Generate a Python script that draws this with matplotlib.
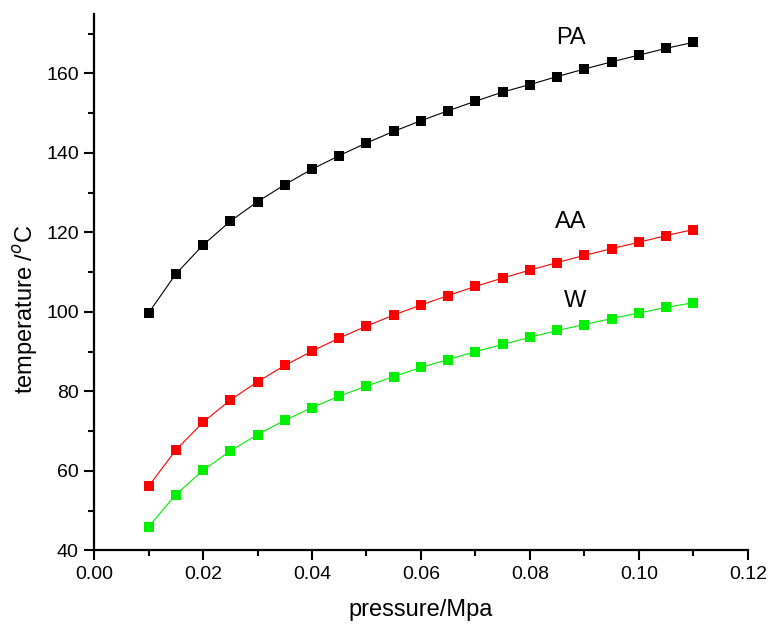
import numpy as np
import matplotlib.pyplot as plt
from matplotlib.ticker import MultipleLocator

plt.rcParams['font.family'] = ['Liberation Sans', 'DejaVu Sans']

pressure = [0.010, 0.015, 0.020, 0.025, 0.030, 0.035, 0.040, 0.045, 0.050, 0.055, 0.060,
            0.065, 0.070, 0.075, 0.080, 0.085, 0.090, 0.095, 0.100, 0.105, 0.110]
temp_pa = [99.7, 109.5, 116.8, 122.8, 127.7, 132.0, 135.9, 139.3, 142.5, 145.4, 148.1,
           150.6, 153.0, 155.3, 157.2, 159.2, 161.1, 162.9, 164.6, 166.3, 167.8]
temp_aa = [56.1, 65.2, 72.2, 77.8, 82.4, 86.5, 90.1, 93.4, 96.4, 99.2, 101.7,
           104.1, 106.4, 108.5, 110.5, 112.4, 114.2, 115.9, 117.5, 119.2, 120.7]
temp_w = [45.9, 54.0, 60.1, 65.0, 69.1, 72.7, 75.9, 78.8, 81.3, 83.7, 86.0,
          88.0, 90.0, 91.8, 93.6, 95.3, 96.8, 98.3, 99.7, 101.1, 102.3]

fig = plt.figure(figsize=(7.71, 6.26), dpi=100)
ax = fig.add_axes([0.122, 0.121, 0.848, 0.857])

for y, c in [(temp_pa, 'black'), (temp_aa, '#ff0000'), (temp_w, '#00ee00')]:
    ax.plot(pressure, y, color=c, lw=0.8, marker='s', ms=7.2,
            markeredgewidth=0, markerfacecolor=c)

# curve labels
ax.text(0.0875, 169, 'PA', fontsize=17, ha='center', va='center')
ax.text(0.0875, 122.5, 'AA', fontsize=17, ha='center', va='center')
ax.text(0.0883, 102.8, 'W', fontsize=17, ha='center', va='center')

ax.set_xlim(0, 0.12)
ax.set_ylim(40, 175)
ax.xaxis.set_major_locator(MultipleLocator(0.02))
ax.xaxis.set_minor_locator(MultipleLocator(0.01))
ax.yaxis.set_major_locator(MultipleLocator(20))
ax.yaxis.set_minor_locator(MultipleLocator(10))
ax.xaxis.set_major_formatter(plt.FuncFormatter(lambda v, p: f'{v:.2f}'))

for s in ['top', 'right']:
    ax.spines[s].set_visible(False)
for s in ['left', 'bottom']:
    ax.spines[s].set_linewidth(1.6)

ax.tick_params(which='major', length=7, width=1.5, labelsize=14, pad=4)
ax.tick_params(which='minor', length=4, width=1.5)

ax.set_xlabel('pressure/Mpa', fontsize=17, labelpad=12)
ax.set_ylabel('temperature /$^o$C', fontsize=17)
ax.yaxis.set_label_coords(-0.083, 0.45)

fig.savefig('out.png', dpi=100)
